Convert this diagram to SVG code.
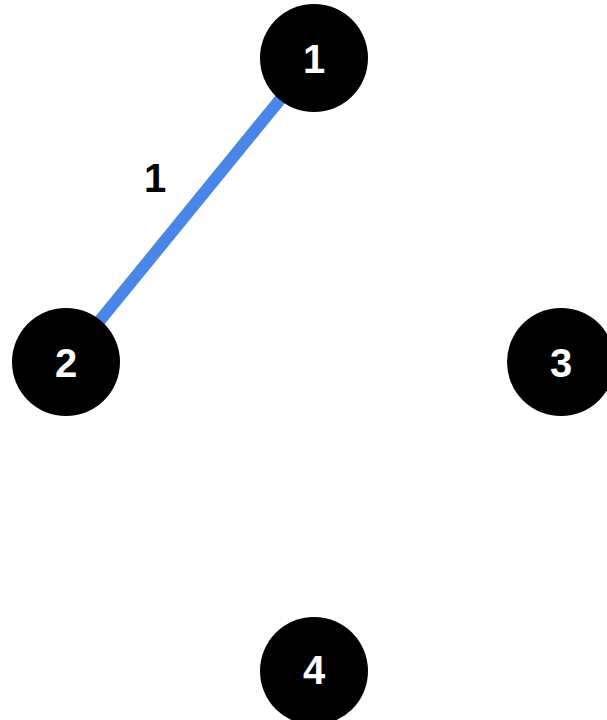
<svg xmlns="http://www.w3.org/2000/svg" width="607" height="720" viewBox="0 0 607 720">
<style>
.node circle{fill:#000}
.node text{fill:#fff;font-family:"Liberation Sans",Arial,sans-serif;font-weight:bold;font-size:40px;text-anchor:middle}
.edge{stroke:#4a86e8;stroke-width:12;fill:none}
.elabel{fill:#000;font-family:"Liberation Sans",Arial,sans-serif;font-weight:bold;font-size:40px;text-anchor:middle}
</style>
<rect width="607" height="720" fill="#fff"/>
<g id="connectors">
<line class="edge" x1="314" y1="58" x2="66" y2="362"/>
<text class="elabel" x="155" y="192">1</text>
</g>
<g id="node1" class="node"><circle cx="314" cy="58" r="54"/><text x="314" y="72.5">1</text></g>
<g id="node2" class="node"><circle cx="66" cy="362" r="54"/><text x="66" y="377">2</text></g>
<g id="node3" class="node"><circle cx="561" cy="362" r="54"/><text x="561" y="377">3</text></g>
<g id="node4" class="node"><circle cx="314" cy="671" r="54"/><text x="314" y="684">4</text></g>
</svg>
